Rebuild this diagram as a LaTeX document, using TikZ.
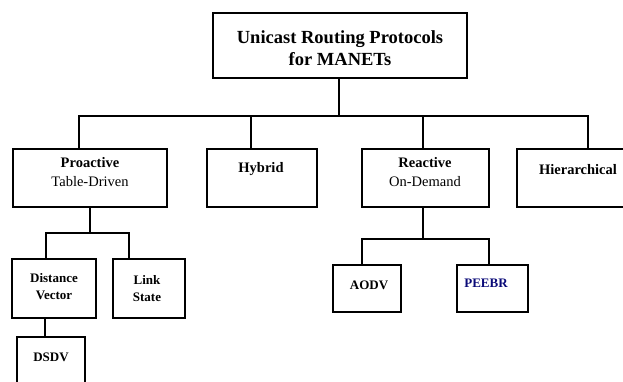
\documentclass[tikz,border=0pt]{standalone}
\usepackage{fontspec}
\setmainfont{Liberation Serif}
\definecolor{navyblue}{RGB}{10,10,120}
\begin{document}
\begin{tikzpicture}[x=1pt,y=-1pt,
  box/.style={draw=black, line width=2pt, fill=white, inner sep=0pt},
  conn/.style={draw=black, line width=2pt, line join=miter},
  tlbl/.style={font=\fontsize{18.5}{22}\selectfont\bfseries, align=center, inner sep=0pt},
  mlbl/.style={font=\fontsize{14.5}{19}\selectfont, align=center, inner sep=0pt},
  slbl/.style={font=\fontsize{13}{17}\selectfont\bfseries, align=center, inner sep=0pt}
]
\clip (0,0) rectangle (623,381);
\fill[white] (0,0) rectangle (623,381);

% boxes
\node[box, minimum width=254pt, minimum height=65pt] (top) at (340,45.5) {};
\node[box, minimum width=154pt, minimum height=58pt] (pro) at (90,178) {};
\node[box, minimum width=110pt, minimum height=58pt] (hyb) at (262,178) {};
\node[box, minimum width=127pt, minimum height=58pt] (rea) at (425.5,178) {};
\node[box, minimum width=123pt, minimum height=58pt] (hie) at (578.5,178) {};
\node[box, minimum width=84pt, minimum height=59pt] (dv) at (54,288.5) {};
\node[box, minimum width=72pt, minimum height=59pt] (ls) at (149,288.5) {};
\node[box, minimum width=68pt, minimum height=63pt] (dsdv) at (51,368.5) {};
\node[box, minimum width=68pt, minimum height=47pt] (aodv) at (367,288.5) {};
\node[box, minimum width=71pt, minimum height=47pt] (peebr) at (492.5,288.5) {};

% texts
\node[tlbl] (toptxt) at (340,48) {Unicast Routing Protocols\\for MANETs};
\node[mlbl] (protxt) at (90,172.5) {\bfseries Proactive\\Table-Driven};
\node[mlbl] (hybtxt) at (261,169) {\bfseries Hybrid};
\node[mlbl] (reatxt) at (425,172.5) {\bfseries Reactive\\On-Demand};
\node[mlbl] (hietxt) at (578,170) {\bfseries Hierarchical};
\node[slbl] (dvtxt) at (54,286.5) {Distance\\Vector};
\node[slbl] (lstxt) at (147,288.5) {Link\\State};
\node[slbl] (dsdvtxt) at (51,357) {DSDV};
\node[slbl] (aodvtxt) at (369,285) {AODV};
\node[slbl, text=navyblue] (peebrtxt) at (486,283) {PEEBR};

% connector coordinates
\coordinate (bus) at (339,116);
\coordinate (d1) at (79,116);
\coordinate (d2) at (251,116);
\coordinate (d3) at (423,116);
\coordinate (d4) at (588,116);
\coordinate (pbus) at (90,233);
\coordinate (pl) at (46,233);
\coordinate (pr) at (129,233);
\coordinate (rbus) at (423,239);
\coordinate (rl) at (362,239);
\coordinate (rr) at (489,239);
\coordinate (dvx) at (45,318);

% connectors
\draw[conn] (top.south -| bus) -- (bus);
\draw[conn] (d1 |- pro.north) -- (d1) -- (d4) -- (d4 |- hie.north);
\draw[conn] (d2) -- (d2 |- hyb.north);
\draw[conn] (d3) -- (d3 |- rea.north);

\draw[conn] (pro.south -| pbus) -- (pbus);
\draw[conn] (pl |- dv.north) -- (pl) -- (pr) -- (pr |- ls.north);
\draw[conn] (dv.south -| dvx) -- (dvx |- dsdv.north);

\draw[conn] (rea.south -| rbus) -- (rbus);
\draw[conn] (rl |- aodv.north) -- (rl) -- (rr) -- (rr |- peebr.north);
\end{tikzpicture}
\end{document}
